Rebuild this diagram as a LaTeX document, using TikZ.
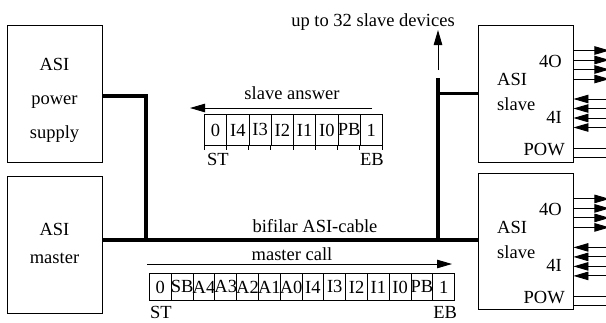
\documentclass[tikz,border=0pt]{standalone}
\usepackage{fontspec}
\setmainfont{Liberation Serif}
\usetikzlibrary{arrows.meta,positioning,calc}

\begin{document}
\begin{tikzpicture}[x=1pt,y=-1pt,
  font=\fontsize{18.5}{22}\selectfont,
  unit/.style={draw,line width=0.9pt,minimum width=95pt,minimum height=137pt,inner sep=0pt},
  bus/.style={line width=3.2pt},
  wire/.style={line width=0.9pt},
  arrow/.style={-{Triangle[length=15pt,width=8.5pt]},line width=0.9pt},
  cell/.style={draw,line width=0.9pt,inner sep=0pt,anchor=north west},
  tag/.style={inner sep=0pt},
]
  \clip (0,0) rectangle (606,322);
  % units
  \node[unit] (psu) at (54.5,93.5) {};
  \node[unit,below=14pt of psu] (master) {};
  \node[unit] (s1) at (525.5,93.5) {};
  \node[unit,below=11pt of s1,minimum height=136pt] (s2) {};
  \node[tag,align=center,font=\fontsize{18.5}{33.8}\selectfont] (psutxt)
    at ($(psu.center)+(0,7)$) {ASI\\power\\supply};
  \node[tag,align=center,font=\fontsize{18.5}{28}\selectfont] (mastertxt)
    at ($(master.center)+(0,-1.5)$) {ASI\\master};
  % slave terminals
  \foreach \s in {s1,s2}{
    \node[tag,anchor=base west] (\s asi) at ($(\s.center)+(-28.5,-8.5)$) {ASI};
    \node[tag,anchor=base west] (\s slave) at ($(\s.center)+(-28.5,16.5)$) {slave};
    \node[tag,anchor=base east] (\s out) at ($(\s.center)+(36.5,-26.5)$) {4O};
    \node[tag,anchor=base east] (\s in) at ($(\s.center)+(36.5,29.5)$) {4I};
    \node[tag,anchor=base east] (\s pow) at ($(\s.center)+(39.5,62)$) {POW};
    \foreach \dy in {-43,-33.5,-24,-14.5}
      \draw[arrow] ($(\s.east)+(0,\dy)$) -- ++(36,0);
    \foreach \dy in {5.5,15,24.5,34}
      \draw[arrow] ($(\s.east)+(34,\dy)$) -- ++(-34,0);
    \foreach \dy in {55,64}
      \draw[wire] ($(\s.east)+(0,\dy)$) -- ++(34,0);
  }
  % bus lines
  \coordinate (pj) at (146,96);
  \coordinate (bj) at (146,240);
  \coordinate (rj) at (438,240);
  \coordinate (rt) at (438,78);
  \draw[bus] (psu.east |- pj) -- (pj) -- (bj);
  \draw[bus] (master.east |- bj) -- (s2.west |- bj);
  \draw[bus] (rj) -- (rt);
  \draw[bus] (rj |- s1.west) -- (s1.west);
  \node[tag,anchor=base] (cabletxt) at (315,232) {bifilar ASI-cable};
  % more slaves
  \coordinate (ub) at (438,70);
  \coordinate (ut) at (438,30);
  \draw[arrow] (ub) -- (ut);
  \node[tag,anchor=base] (uptxt) at (373,26) {up to 32 slave devices};
  % slave answer frame
  \coordinate (ansr) at (372,108);
  \coordinate (ansl) at (190,108);
  \draw[arrow] (ansr) -- (ansl);
  \node[tag,anchor=base] (anstxt) at (292,99) {slave answer};
  \foreach \t [count=\i from 0] in {0,I4,I3,I2,I1,I0,PB,1}
    \node[cell,minimum width=22.25pt,minimum height=31pt] (ans\i)
      at (204+22.25*\i,114) {\makebox[0pt]{\t}};
  \foreach \i in {0,...,7}
    \draw[wire] (ans\i.south west) -- ++(0,4);
  \draw[wire] (ans7.south east) -- ++(0,4);
  \node[tag,anchor=north west] (ansst) at ($(ans0.south west)+(3,7)$) {ST};
  \node[tag,anchor=north east] (anseb) at ($(ans7.south east)+(1,7)$) {EB};
  % master call frame
  \coordinate (calll) at (147,264);
  \coordinate (callr) at (452,264);
  \draw[arrow] (calll) -- (callr);
  \node[tag,anchor=base] (calltxt) at (292,260) {master call};
  \foreach \t [count=\i from 0] in {0,SB,A4,A3,A2,A1,A0,I4,I3,I2,I1,I0,PB,1}
    \node[cell,minimum width=21.8pt,minimum height=27pt] (call\i)
      at (149+21.8*\i,273) {\makebox[0pt]{\t}};
  \node[tag,anchor=north west] (callst) at ($(call0.south west)+(1,5)$) {ST};
  \node[tag,anchor=north east] (calleb) at ($(call13.south east)+(2,5)$) {EB};
\end{tikzpicture}
\end{document}
